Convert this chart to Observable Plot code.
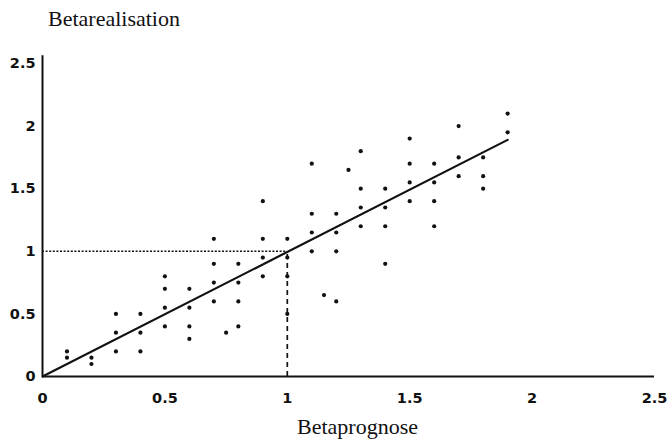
<!DOCTYPE html>
<html>
<head>
<meta charset="utf-8">
<script src="https://cdn.jsdelivr.net/npm/d3@7"></script>
<script src="https://cdn.jsdelivr.net/npm/@observablehq/plot@0.6"></script>
<style>
  html, body { margin: 0; padding: 0; background: #fff; }
  #wrap { position: relative; width: 672px; height: 446px; overflow: hidden; }
  .lbl { position: absolute; font-family: "Liberation Serif", "Times New Roman", serif; font-size: 22px; line-height: 22px; color: #111; white-space: nowrap; }
</style>
</head>
<body>
<div id="wrap">
  <div class="lbl" id="ytitle" style="left:48px; top:8px;">Betarealisation</div>
  <div class="lbl" id="xtitle" style="left:297px; top:416px;">Betaprognose</div>
</div>
<script>
// Observed points: Betaprognose (x) and Betarealisation (y)
const betaPrognose = [
  0.1, 0.1,
  0.2, 0.2,
  0.3, 0.3, 0.3,
  0.4, 0.4, 0.4,
  0.5, 0.5, 0.5, 0.5,
  0.6, 0.6, 0.6, 0.6,
  0.7, 0.7, 0.7, 0.7,
  0.75,
  0.8, 0.8, 0.8, 0.8,
  0.9, 0.9, 0.9, 0.9,
  1.0, 1.0, 1.0, 1.0,
  1.1, 1.1, 1.1, 1.1,
  1.15,
  1.2, 1.2, 1.2, 1.2,
  1.25,
  1.3, 1.3, 1.3, 1.3,
  1.4, 1.4, 1.4, 1.4,
  1.5, 1.5, 1.5, 1.5,
  1.6, 1.6, 1.6, 1.6,
  1.7, 1.7, 1.7,
  1.8, 1.8, 1.8,
  1.9, 1.9
];
const betaRealisation = [
  0.2, 0.15,
  0.15, 0.1,
  0.5, 0.35, 0.2,
  0.5, 0.35, 0.2,
  0.8, 0.7, 0.55, 0.4,
  0.7, 0.55, 0.4, 0.3,
  1.1, 0.9, 0.75, 0.6,
  0.35,
  0.9, 0.75, 0.6, 0.4,
  1.4, 1.1, 0.95, 0.8,
  1.1, 0.95, 0.8, 0.5,
  1.7, 1.3, 1.15, 1.0,
  0.65,
  1.3, 1.15, 1.0, 0.6,
  1.65,
  1.8, 1.5, 1.35, 1.2,
  1.5, 1.35, 1.2, 0.9,
  1.9, 1.7, 1.55, 1.4,
  1.7, 1.55, 1.4, 1.2,
  2.0, 1.75, 1.6,
  1.75, 1.6, 1.5,
  2.1, 1.95
];
// Fitted line endpoints
const fitX = [0, 1.9];
const fitY = [0, 1.89];
// Reference guide at beta = 1
const guideValue = 1;
// Axis ticks
const tickValues = [0, 0.5, 1, 1.5, 2, 2.5];
const axisMax = 2.5;

const points = betaPrognose.map((x, i) => ({x, y: betaRealisation[i]}));
const fit = fitX.map((x, i) => ({x, y: fitY[i]}));

const tickFont = {fontFamily: "DejaVu Sans, sans-serif", fontWeight: "bold", fontSize: 14.5, fill: "#111"};

const chart = Plot.plot({
  width: 672,
  height: 446,
  marginLeft: 42,
  marginRight: 18,
  marginTop: 63,
  marginBottom: 70,
  style: {background: "#fff", overflow: "visible"},
  x: {domain: [0, axisMax]},
  y: {domain: [0, axisMax]},
  marks: [
    Plot.axisX({ticks: tickValues, tickFormat: d => String(d), tickSize: 0, tickPadding: 16, label: null, ...tickFont}),
    Plot.axisY({ticks: tickValues, tickFormat: d => String(d), tickSize: 0, tickPadding: 7, label: null, ...tickFont}),
    // guides
    Plot.ruleY([guideValue], {x1: 0, x2: guideValue, stroke: "#111", strokeWidth: 1.4, strokeDasharray: "2,1.6"}),
    Plot.ruleX([guideValue], {y1: 0, y2: guideValue, stroke: "#111", strokeWidth: 1.7, strokeDasharray: "5,4"}),
    // axes lines
    Plot.ruleY([0], {x1: 0, x2: axisMax, stroke: "#111", strokeWidth: 2}),
    Plot.ruleX([0], {y1: 0, y2: axisMax * 1.025, stroke: "#111", strokeWidth: 2}),
    // fitted line
    Plot.line(fit, {x: "x", y: "y", stroke: "#111", strokeWidth: 2.2}),
    // points
    Plot.dot(points, {x: "x", y: "y", r: 2.1, fill: "#111", stroke: "none"})
  ]
});
document.getElementById("wrap").prepend(chart);
chart.style.position = "absolute";
chart.style.left = "0";
chart.style.top = "0";
</script>
</body>
</html>
